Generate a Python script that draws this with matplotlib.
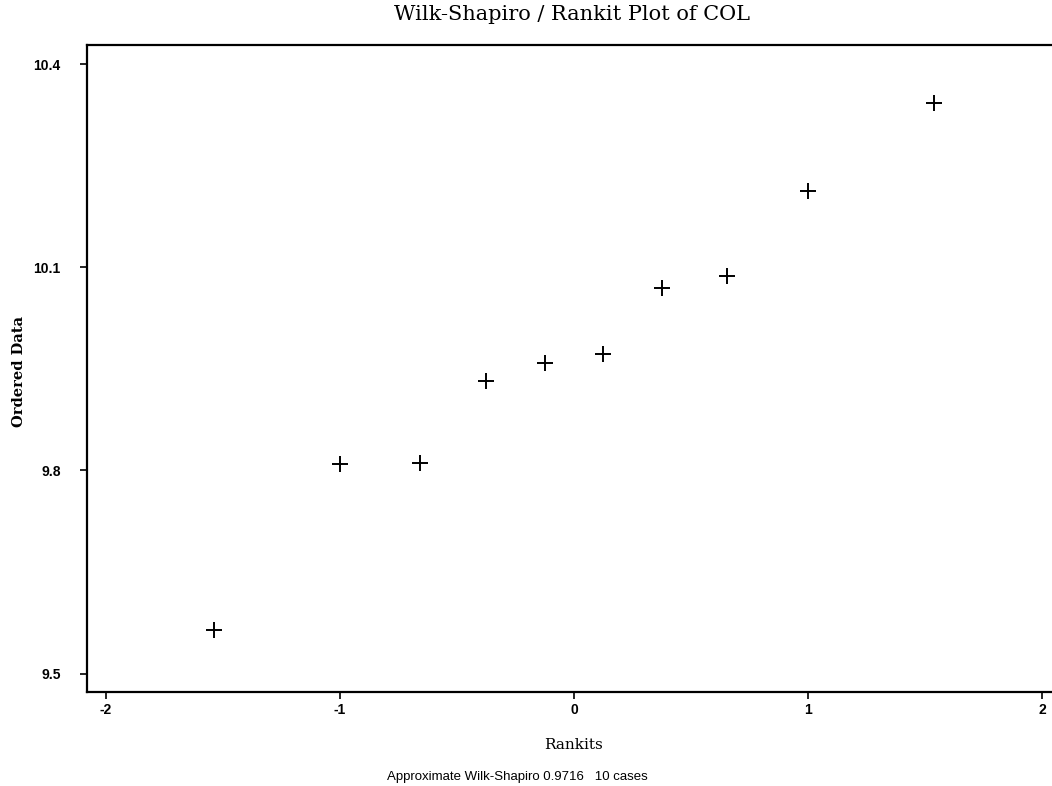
import matplotlib.pyplot as plt

# rankits (expected normal order statistics, n=10) and the ordered COL values
rankits = [-1.539, -1.001, -0.656, -0.376, -0.123, 0.123, 0.376, 0.656, 1.001, 1.539]
ordered = [9.565, 9.810, 9.811, 9.932, 9.958, 9.972, 10.069, 10.087, 10.213, 10.342]

x_ticks = [-2, -1, 0, 1, 2]
y_ticks = [9.5, 9.8, 10.1, 10.4]
y_labels = ["9.5", "9.8", "10.1", "10.4"]

fig = plt.figure(figsize=(10.52, 7.86), dpi=100)
ax = fig.add_axes([0.0827, 0.1196, 0.9173, 0.8231])

ax.plot(rankits, ordered, linestyle="none", marker="+", markersize=11,
        markeredgewidth=1.4, color="black")

ax.set_xlim(-2.081, 2.043)
ax.set_ylim(9.473, 10.428)

ax.set_xticks(x_ticks)
ax.set_xticklabels([str(t) for t in x_ticks])
ax.set_yticks(y_ticks)
ax.set_yticklabels(y_labels)
ax.tick_params(axis="both", direction="out", length=5, width=1.2, color="black",
               labelsize=10)
ax.tick_params(axis="x", pad=3)
ax.tick_params(axis="y", pad=14)
for lab in ax.get_xticklabels() + ax.get_yticklabels():
    lab.set_fontfamily("Liberation Sans")
    lab.set_fontweight("bold")

ax.spines["right"].set_visible(False)
for s in ["left", "top", "bottom"]:
    ax.spines[s].set_linewidth(1.6)

fig.text(0.544, 0.981, "Wilk-Shapiro / Rankit Plot of COL", ha="center", va="center",
         fontsize=15, family="DejaVu Serif")
fig.text(0.545, 0.052, "Rankits", ha="center", va="center",
         fontsize=11, family="DejaVu Serif")
fig.text(0.018, 0.527, "Ordered Data", ha="center", va="center", rotation=90,
         fontsize=10.5, family="DejaVu Serif", fontweight="bold")
fig.text(0.368, 0.0115, "Approximate Wilk-Shapiro 0.9716   10 cases", ha="left",
         va="center", fontsize=9.5, family="Liberation Sans")

fig.savefig("out.png", dpi=100)
